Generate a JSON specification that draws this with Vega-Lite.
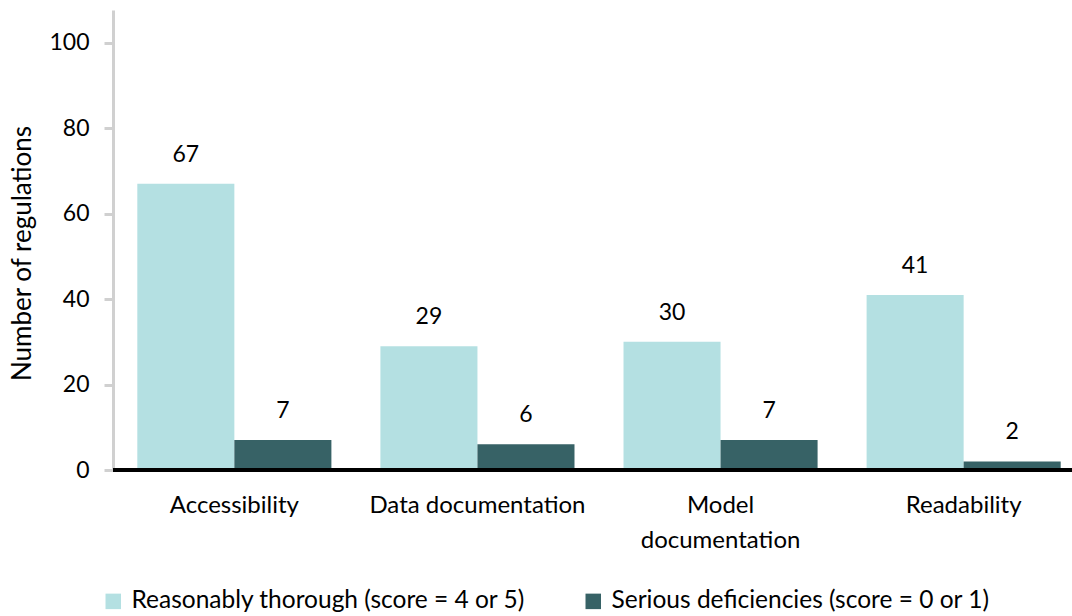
{
  "$schema": "https://vega.github.io/schema/vega-lite/v6.json",
  "autosize": {"type": "none"},
  "width": 959,
  "height": 460,
  "padding": {"left": 113, "top": 10, "right": 0, "bottom": 146},
  "background": "white",
  "config": {
    "view": {"stroke": null},
    "font": "Lato",
    "axis": {"labelFont": "Lato", "titleFont": "Lato", "labelColor": "#000000", "titleColor": "#000000"},
    "legend": {"labelFont": "Lato"}
  },
  "data": {
    "values": [
      {"category": "Accessibility", "series": "Reasonably thorough (score = 4 or 5)", "value": 67},
      {"category": "Accessibility", "series": "Serious deficiencies  (score = 0 or 1)", "value": 7},
      {"category": "Data documentation", "series": "Reasonably thorough (score = 4 or 5)", "value": 29},
      {"category": "Data documentation", "series": "Serious deficiencies  (score = 0 or 1)", "value": 6},
      {"category": "Model documentation", "series": "Reasonably thorough (score = 4 or 5)", "value": 30},
      {"category": "Model documentation", "series": "Serious deficiencies  (score = 0 or 1)", "value": 7},
      {"category": "Readability", "series": "Reasonably thorough (score = 4 or 5)", "value": 41},
      {"category": "Readability", "series": "Serious deficiencies  (score = 0 or 1)", "value": 2}
    ]
  },
  "encoding": {
    "x": {
      "field": "category", "type": "nominal", "sort": null,
      "scale": {"range": [0, 972], "paddingInner": 0.2016, "paddingOuter": 0.1},
      "axis": {
        "title": null, "domain": false, "ticks": false, "labelAngle": 0,
        "labelFontSize": 24, "labelPadding": 23, "labelBaseline": "top",
        "labelLineHeight": 35, "labelLimit": 500,
        "labelExpr": "datum.label == 'Model documentation' ? ['Model', 'documentation'] : datum.label"
      }
    },
    "xOffset": {"field": "series", "type": "nominal", "sort": null, "scale": {"paddingInner": 0, "paddingOuter": 0}},
    "y": {
      "field": "value", "type": "quantitative",
      "scale": {"domain": [0, 107.7], "nice": false, "zero": true},
      "axis": {
        "values": [0, 20, 40, 60, 80, 100],
        "grid": false,
        "domainColor": "#d0d0d0", "domainWidth": 3,
        "tickColor": "#d0d0d0", "tickWidth": 3, "tickSize": 9,
        "labelFontSize": 23, "labelPadding": 15,
        "title": "Number of regulations", "titleFontSize": 26, "titleFontWeight": "normal",
        "titleX": -78, "titleY": 243, "titleAngle": -90
      }
    }
  },
  "layer": [
    {
      "mark": {"type": "bar"},
      "encoding": {
        "color": {
          "field": "series", "type": "nominal", "sort": null,
          "scale": {"domain": ["Reasonably thorough (score = 4 or 5)", "Serious deficiencies  (score = 0 or 1)"], "range": ["#b4e0e2", "#376266"]},
          "legend": {
            "title": null, "orient": "none", "direction": "horizontal",
            "legendX": -12, "legendY": 579,
            "symbolType": "square", "symbolSize": 240, "symbolStrokeWidth": 0,
            "labelFontSize": 24.5, "labelOffset": 6, "columnPadding": 55, "labelLimit": 600
          }
        }
      }
    },
    {
      "mark": {"type": "text", "dy": -22, "baseline": "alphabetic", "fontSize": 23, "color": "#000000"},
      "encoding": {"text": {"field": "value", "type": "quantitative"}}
    },
    {
      "mark": {"type": "rule", "color": "#000000", "strokeWidth": 3},
      "encoding": {"y": {"datum": 0}, "x": null, "xOffset": null}
    }
  ]
}
